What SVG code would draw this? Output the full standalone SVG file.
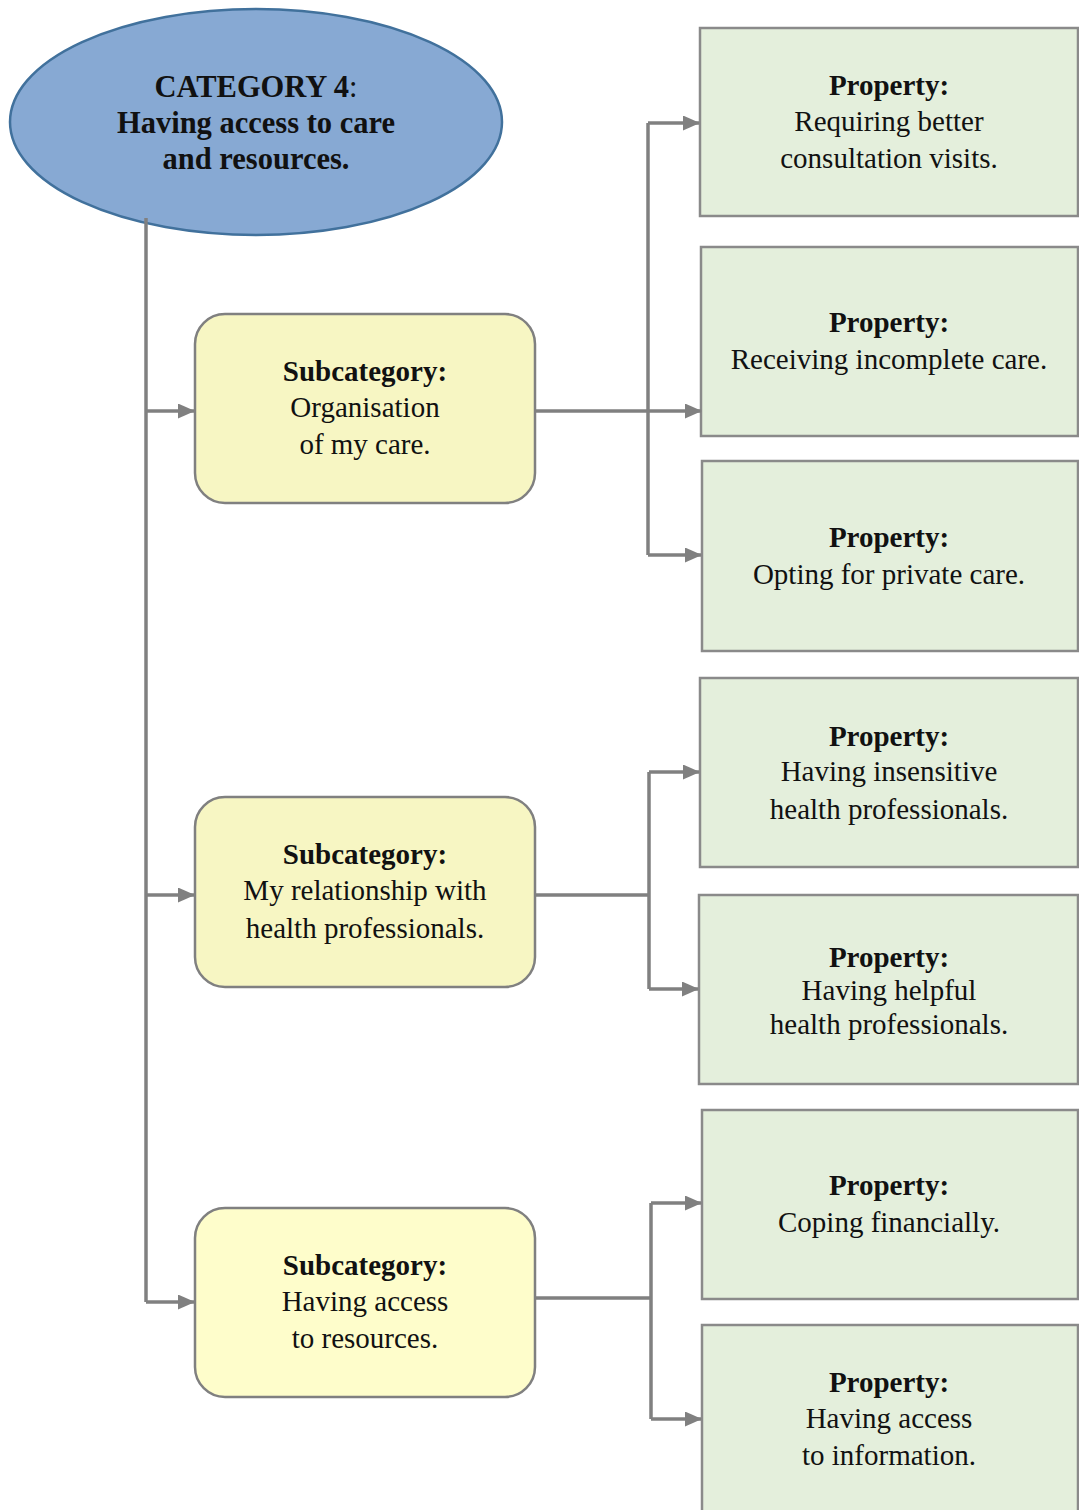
<svg xmlns="http://www.w3.org/2000/svg" width="1079" height="1510" viewBox="0 0 1079 1510">
  <defs>
    <marker id="arrow" markerUnits="userSpaceOnUse" markerWidth="17" markerHeight="15" refX="16" refY="7.5" orient="auto">
      <path d="M0,0 L17,7.5 L0,15 Z" fill="#808080"/>
    </marker>
    <style>
      text { font-family: "Liberation Serif", "Times New Roman", serif; font-size: 29px; fill: #111; text-anchor: middle; }
      .b { font-weight: bold; }
      .title { font-size: 30.5px; }
      .cat { fill: #87A9D3; stroke: #41719C; stroke-width: 2.5; }
      .sub { fill: #F7F6C3; stroke: #808080; stroke-width: 2.5; }
      .sub.light { fill: #FEFDCB; }
      .prop { fill: #E4EFDC; stroke: #8A8A8A; stroke-width: 2.5; }
      .wire { fill: none; stroke: #808080; stroke-width: 3.5; }
      .arr { fill: none; stroke: #808080; stroke-width: 3.5; marker-end: url(#arrow); }
    </style>
  </defs>
  <rect width="1079" height="1510" fill="#FFFFFF"/>

  <!-- category -->
  <g id="category">
    <ellipse class="cat" cx="256" cy="122" rx="246" ry="113"/>
    <text class="title" x="256" y="97"><tspan class="b">CATEGORY 4</tspan>:</text>
    <text class="title b" x="256" y="133">Having access to care</text>
    <text class="title b" x="256" y="169">and resources.</text>
  </g>

  <!-- subcategories -->
  <g id="sub-organisation">
    <rect class="sub" x="195" y="314" width="340" height="189" rx="30"/>
    <text class="b" x="365" y="381">Subcategory:</text>
    <text x="365" y="417">Organisation</text>
    <text x="365" y="454">of my care.</text>
  </g>
  <g id="sub-relationship">
    <rect class="sub" x="195" y="797" width="340" height="190" rx="30"/>
    <text class="b" x="365" y="864">Subcategory:</text>
    <text x="365" y="900">My relationship with</text>
    <text x="365" y="938">health professionals.</text>
  </g>
  <g id="sub-resources">
    <rect class="sub light" x="195" y="1208" width="340" height="189" rx="30"/>
    <text class="b" x="365" y="1275">Subcategory:</text>
    <text x="365" y="1311">Having access</text>
    <text x="365" y="1348">to resources.</text>
  </g>

  <!-- properties -->
  <g id="prop-consultation">
    <rect class="prop" x="700" y="28" width="378" height="188"/>
    <text class="b" x="889" y="95">Property:</text>
    <text x="889" y="131">Requiring better</text>
    <text x="889" y="168">consultation visits.</text>
  </g>
  <g id="prop-incomplete">
    <rect class="prop" x="701" y="247" width="377" height="189"/>
    <text class="b" x="889" y="332">Property:</text>
    <text x="889" y="369">Receiving incomplete care.</text>
  </g>
  <g id="prop-private">
    <rect class="prop" x="702" y="461" width="376" height="190"/>
    <text class="b" x="889" y="547">Property:</text>
    <text x="889" y="584">Opting for private care.</text>
  </g>
  <g id="prop-insensitive">
    <rect class="prop" x="700" y="678" width="378" height="189"/>
    <text class="b" x="889" y="746">Property:</text>
    <text x="889" y="781">Having insensitive</text>
    <text x="889" y="819">health professionals.</text>
  </g>
  <g id="prop-helpful">
    <rect class="prop" x="699" y="895" width="379" height="189"/>
    <text class="b" x="889" y="967">Property:</text>
    <text x="889" y="1000">Having helpful</text>
    <text x="889" y="1034">health professionals.</text>
  </g>
  <g id="prop-financial">
    <rect class="prop" x="702" y="1110" width="376" height="189"/>
    <text class="b" x="889" y="1195">Property:</text>
    <text x="889" y="1232">Coping financially.</text>
  </g>
  <g id="prop-information">
    <rect class="prop" x="702" y="1325" width="376" height="200"/>
    <text class="b" x="889" y="1392">Property:</text>
    <text x="889" y="1428">Having access</text>
    <text x="889" y="1465">to information.</text>
  </g>

  <!-- connectors -->
  <g id="connectors">
    <!-- category trunk to subcategories -->
    <path class="wire" d="M146,218 V1302"/>
    <path class="arr" d="M146,411 H194"/>
    <path class="arr" d="M146,895 H194"/>
    <path class="arr" d="M146,1302 H194"/>

    <!-- organisation of my care -->
    <path class="wire" d="M648,123 V555"/>
    <path class="arr" d="M535,411 H701"/>
    <path class="arr" d="M648,123 H699"/>
    <path class="arr" d="M648,555 H701"/>

    <!-- relationship with professionals -->
    <path class="wire" d="M535,895 H649 M649,772 V989"/>
    <path class="arr" d="M649,772 H699"/>
    <path class="arr" d="M649,989 H698"/>

    <!-- access to resources -->
    <path class="wire" d="M535,1298 H651 M651,1203 V1419"/>
    <path class="arr" d="M651,1203 H701"/>
    <path class="arr" d="M651,1419 H701"/>
  </g>
</svg>
